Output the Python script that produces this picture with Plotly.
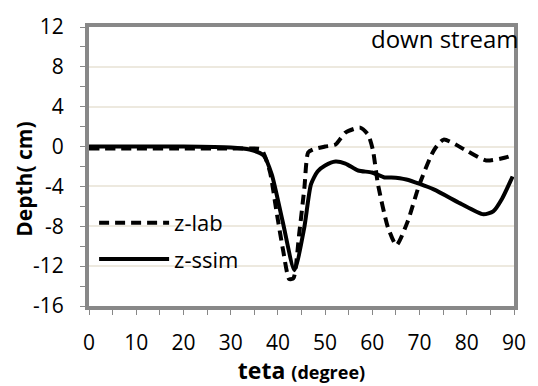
import plotly.graph_objects as go

# z-lab (dashed)
lab_x = [0, 10, 20, 30, 34, 36.5, 38.3, 39.7, 41.1, 42.4, 43.3, 44.5, 45.6, 46.4, 47.4, 50, 52.2,
         54.3, 57.4, 59.1, 60.1, 61.2, 63.3, 65.1, 67.5, 69.9, 73.0, 75.1, 79.9, 84.1, 88.2, 89.5]
lab_y = [-0.2, -0.2, -0.2, -0.2, -0.2, -0.3, -2.5, -6.5, -10.4, -13.3, -13.2, -8.8, -4.2, -0.6, -0.3, 0.0, 0.2,
         1.4, 1.9, 1.2, -0.3, -3.8, -8.1, -9.9, -7.5, -3.9, -0.4, 0.7, -0.4, -1.4, -1.1, -0.9]

# z-ssim (solid)
sim_x = [0, 10, 20, 30, 34, 37, 38.7, 41, 43.5, 45.6, 47, 48.4, 50, 52.2, 54.3, 57, 59.9,
         62.6, 64, 67.2, 73, 78.6, 83.5, 85.6, 87.5, 89.7]
sim_y = [0.0, 0.0, 0.0, -0.1, -0.3, -0.9, -2.8, -7.5, -12.4, -8.1, -3.8, -2.5, -1.9, -1.5, -1.7, -2.4, -2.6,
         -3.1, -3.1, -3.3, -4.3, -5.7, -6.8, -6.5, -5.2, -3.0]

x_ticks = [0, 10, 20, 30, 40, 50, 60, 70, 80, 90]
x_labels = ["0", "10", "20", "30", "40", "50", "60", "70", "80", "90"]
y_ticks = [12, 8, 4, 0, -4, -8, -12, -16]
y_labels = ["12", "8", "4", "0", "-4", "-8", "-12", "-16"]

font_family = "Open Sans"

fig = go.Figure()
fig.add_trace(go.Scatter(x=lab_x, y=lab_y, mode="lines", name="z-lab", legend="legend",
                         line=dict(color="black", width=4, dash="10px,6px", shape="spline", smoothing=0.6)))
fig.add_trace(go.Scatter(x=sim_x, y=sim_y, mode="lines", name="z-ssim", legend="legend2",
                         line=dict(color="black", width=4, shape="spline", smoothing=0.6)))

leg_common = dict(xanchor="left", yanchor="middle", bgcolor="rgba(0,0,0,0)",
                  font=dict(size=22, family=font_family), itemwidth=70)

fig.update_layout(
    width=538, height=386,
    margin=dict(l=89, r=18, t=22, b=79),
    paper_bgcolor="white", plot_bgcolor="white",
    font=dict(family=font_family, size=21, color="black"),
    showlegend=True,
    legend=dict(x=0.012, y=0.298, **leg_common),
    legend2=dict(x=0.012, y=0.168, **leg_common),
    annotations=[
        dict(text="down stream", x=1.017, y=1.025, xref="paper", yref="paper",
             xanchor="right", yanchor="top", showarrow=False,
             font=dict(size=24, family=font_family)),
        dict(text="<b>Depth( cm)</b>", x=-0.155, y=0.453, xref="paper", yref="paper",
             xanchor="center", yanchor="middle", textangle=-90, showarrow=False,
             font=dict(size=21, family=font_family)),
    ],
)

fig.update_xaxes(
    range=[0, 90], tickvals=x_ticks, ticktext=x_labels,
    showgrid=False, zeroline=False,
    showline=True, linecolor="#888888", linewidth=4, mirror=True,
    ticks="outside", ticklen=5, tickcolor="#888888", tickwidth=1,
    minor=dict(dtick=5, tick0=0, ticks="outside", ticklen=5, tickcolor="#888888"),
    tickfont=dict(size=21), ticklabelstandoff=10,
    title=dict(text="<b>teta <span style='font-size:18px'>(degree)</span></b>",
               font=dict(size=23), standoff=2),
)
fig.update_yaxes(
    range=[-16, 12], tickvals=y_ticks, ticktext=y_labels,
    showgrid=True, gridcolor="#EDE9DF", gridwidth=1.5, zeroline=False,
    showline=True, linecolor="#888888", linewidth=4, mirror=True,
    ticks="outside", ticklen=5, tickcolor="#888888", tickwidth=1,
    minor=dict(dtick=2, tick0=0, ticks="outside", ticklen=5, tickcolor="#888888", showgrid=False),
    tickfont=dict(size=21), ticklabelstandoff=12,
)

fig.write_html("out.html")
